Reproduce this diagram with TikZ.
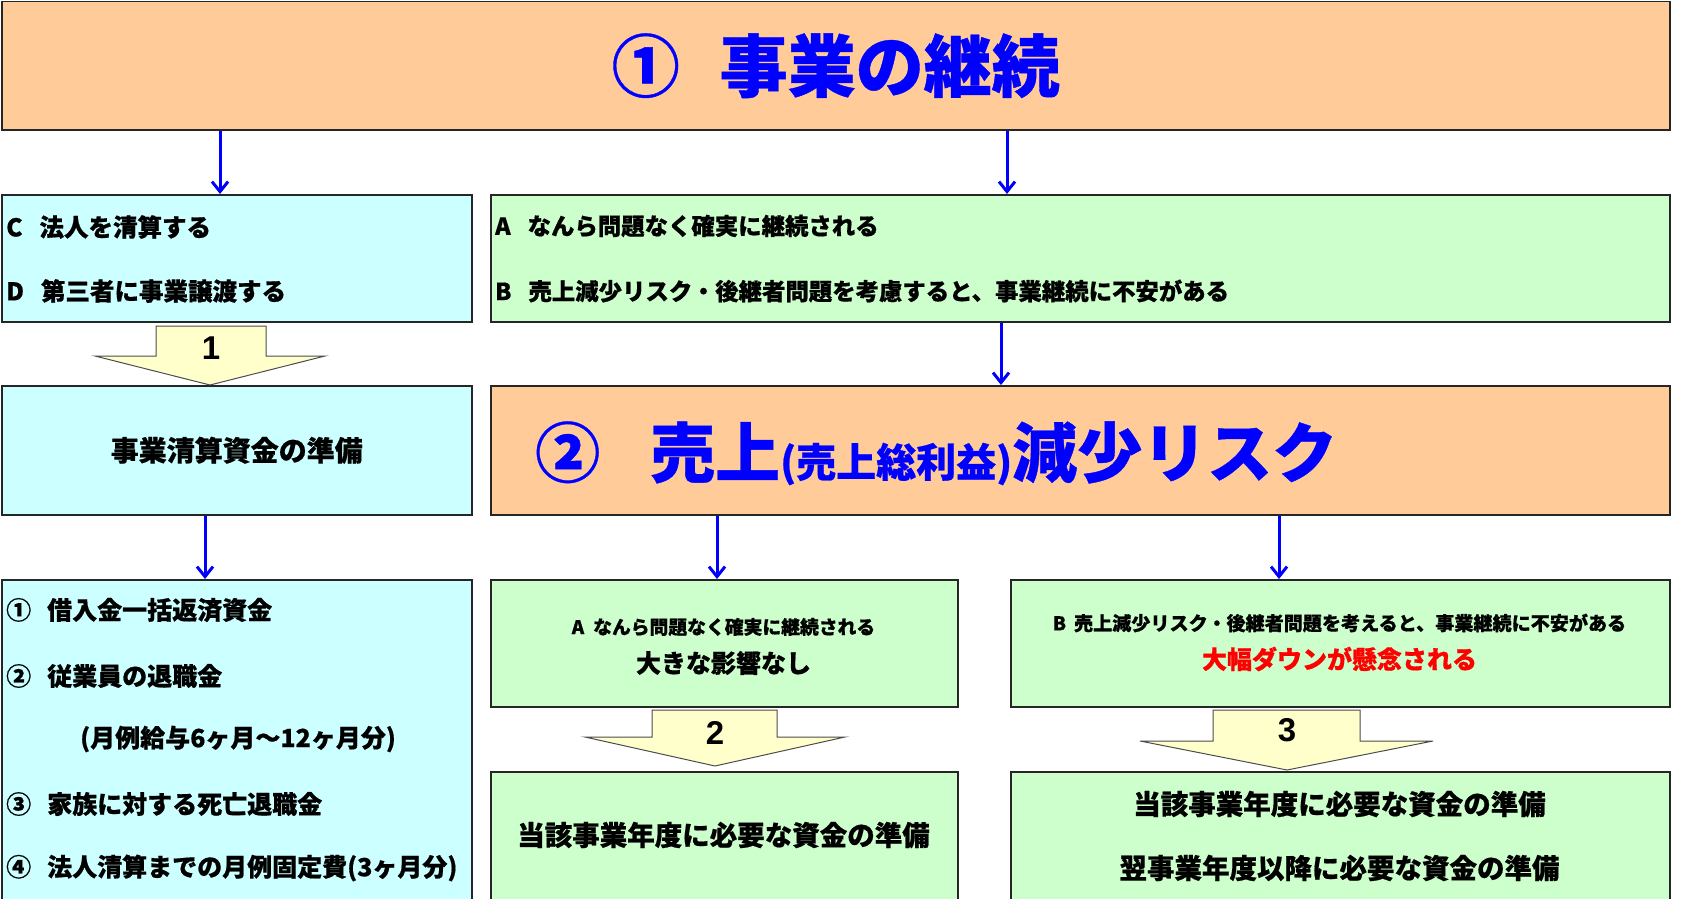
\documentclass[tikz,border=0pt]{standalone}
\usepackage{fontspec}
\setmainfont{Noto Sans CJK JP}[BoldFeatures={FakeBold=0.6}]
\newfontfamily\numfont{Liberation Sans}
\usetikzlibrary{arrows.meta}

\definecolor{orangefill}{HTML}{FFCC99}
\definecolor{cyanfill}{HTML}{CCFFFF}
\definecolor{greenfill}{HTML}{CCFFCC}
\definecolor{yellowfill}{HTML}{FFFFCC}
\definecolor{titleblue}{HTML}{0000FF}

\newcommand{\jpsize}[1]{\fontsize{#1}{#1}\selectfont\bfseries}

\begin{document}
\begin{tikzpicture}[x=1pt, y=-1pt,
	box/.style={draw=black!85, line width=1.5pt, anchor=north west, inner sep=0pt},
	orangebox/.style={box, fill=orangefill},
	cyanbox/.style={box, fill=cyanfill},
	greenbox/.style={box, fill=greenfill},
	flow/.style={draw=blue, line width=3pt, -{Straight Barb[length=10pt, width=16pt, line width=3pt]}},
	bigarrow/.style={draw=black!70, line width=1pt, fill=yellowfill},
	txt/.style={anchor=west, inner sep=0pt},
	ctxt/.style={anchor=center, inner sep=0pt},
	stepnum/.style={inner sep=0pt, font=\numfont\fontsize{33}{33}\selectfont\bfseries}]
	
	\useasboundingbox (0,0) rectangle (1695,899);
	
	% Kopfzeile
	\node[orangebox, minimum width=1668pt, minimum height=128pt] (top) at (1,1) {};
	\node[ctxt, text=titleblue, font=\jpsize{68}] (toptitle) at (top.center) {①\hspace{40pt}事業の継続};
	
	% Zweite Reihe
	\node[cyanbox, minimum width=470pt, minimum height=127pt] (cd) at (1,194) {};
	\node[greenbox, minimum width=1179pt, minimum height=127pt] (ab) at (490,194) {};
	
	\node[txt, font=\jpsize{24.5}] (cdC) at (6,227) {C\hspace{17pt}法人を清算する};
	\node[txt, font=\jpsize{24.5}] (cdD) at (6,291) {D\hspace{17pt}第三者に事業譲渡する};
	\node[txt, font=\jpsize{23.4}] (abA) at (495,226) {A\hspace{17pt}なんら問題なく確実に継続される};
	\node[txt, font=\jpsize{23.4}] (abB) at (495,291) {B\hspace{17pt}売上減少リスク・後継者問題を考慮すると、事業継続に不安がある};
	
	% Dritte Reihe
	\node[cyanbox, minimum width=470pt, minimum height=129pt] (prep) at (1,385) {};
	\node[orangebox, minimum width=1179pt, minimum height=129pt] (risk) at (490,385) {};
	
	\node[ctxt, font=\jpsize{28}] (preptext) at (prep.center) {事業清算資金の準備};
	\node[anchor=base west, inner sep=0pt, text=titleblue, font=\jpsize{65}] (risktext) at (535,477)
	{②\hspace{50pt}売上{\jpsize{40}(売上総利益)}減少リスク};
	
	% Vierte Reihe
	\node[cyanbox, minimum width=470pt, minimum height=326pt] (list) at (1,579) {};
	\node[greenbox, minimum width=467pt, minimum height=127pt] (noimpact) at (490,579) {};
	\node[greenbox, minimum width=659pt, minimum height=127pt] (down) at (1010,579) {};
	
	\node[txt, font=\jpsize{25}] (item1) at (6,610) {①\hspace{16pt}借入金一括返済資金};
	\node[txt, font=\jpsize{25}] (item2) at (6,676) {②\hspace{16pt}従業員の退職金};
	\node[txt, font=\jpsize{25}] (item2b) at (80,739) {(月例給与6ヶ月～12ヶ月分)};
	\node[txt, font=\jpsize{25}] (item3) at (6,804) {③\hspace{16pt}家族に対する死亡退職金};
	\node[txt, font=\jpsize{25}] (item4) at (6,868) {④\hspace{16pt}法人清算までの月例固定費(3ヶ月分)};
	
	\node[ctxt, font=\jpsize{18.8}] (noimpactA) at (723.5,627) {A\hspace{9pt}なんら問題なく確実に継続される};
	\node[ctxt, font=\jpsize{25}] (noimpactB) at (723.5,663) {大きな影響なし};
	\node[ctxt, font=\jpsize{19.1}] (downA) at (1339.5,623) {B\hspace{8pt}売上減少リスク・後継者問題を考えると、事業継続に不安がある};
	\node[ctxt, text=red, font=\jpsize{25}] (downB) at (1339.5,659) {大幅ダウンが懸念される};
	
	% Unterste Reihe
	\node[greenbox, minimum width=467pt, minimum height=134pt] (fund) at (490,771) {};
	\node[greenbox, minimum width=659pt, minimum height=134pt] (fund2) at (1010,771) {};
	
	\node[ctxt, font=\jpsize{27.5}] (fundtext) at (723.5,835) {当該事業年度に必要な資金の準備};
	\node[ctxt, font=\jpsize{27.5}] (fund2a) at (1339.5,804) {当該事業年度に必要な資金の準備};
	\node[ctxt, font=\jpsize{27.5}] (fund2b) at (1339.5,868) {翌事業年度以降に必要な資金の準備};
	
	% Dicke Pfeile
	\draw[bigarrow] (156,326) -- (266,326) -- (266,356) -- (325,356) -- (210,385)
	-- (95,356) -- (156,356) -- cycle;
	\node[stepnum] (step1) at (211,348) {1};
	
	\draw[bigarrow] (652,710) -- (777,710) -- (777,737) -- (845,737) -- (715,766)
	-- (585,737) -- (652,737) -- cycle;
	\node[stepnum] (step2) at (715,733) {2};
	
	\draw[bigarrow] (1213,710) -- (1360,710) -- (1360,741) -- (1433,741) -- (1287,770)
	-- (1140,741) -- (1213,741) -- cycle;
	\node[stepnum] (step3) at (1287,730) {3};
	
	% Duenne Pfeile
	\coordinate (p1) at (220,0);
	\coordinate (p2) at (1007,0);
	\coordinate (p3) at (1001,0);
	\coordinate (p4) at (205,0);
	\coordinate (p5) at (717,0);
	\coordinate (p6) at (1279,0);
	
	\draw[flow] (p1 |- top.south) -- (p1 |- cd.north);
	\draw[flow] (p2 |- top.south) -- (p2 |- ab.north);
	\draw[flow] (p3 |- ab.south) -- (p3 |- risk.north);
	\draw[flow] (p4 |- prep.south) -- (p4 |- list.north);
	\draw[flow] (p5 |- risk.south) -- (p5 |- noimpact.north);
	\draw[flow] (p6 |- risk.south) -- (p6 |- down.north);
	
\end{tikzpicture}
\end{document}
